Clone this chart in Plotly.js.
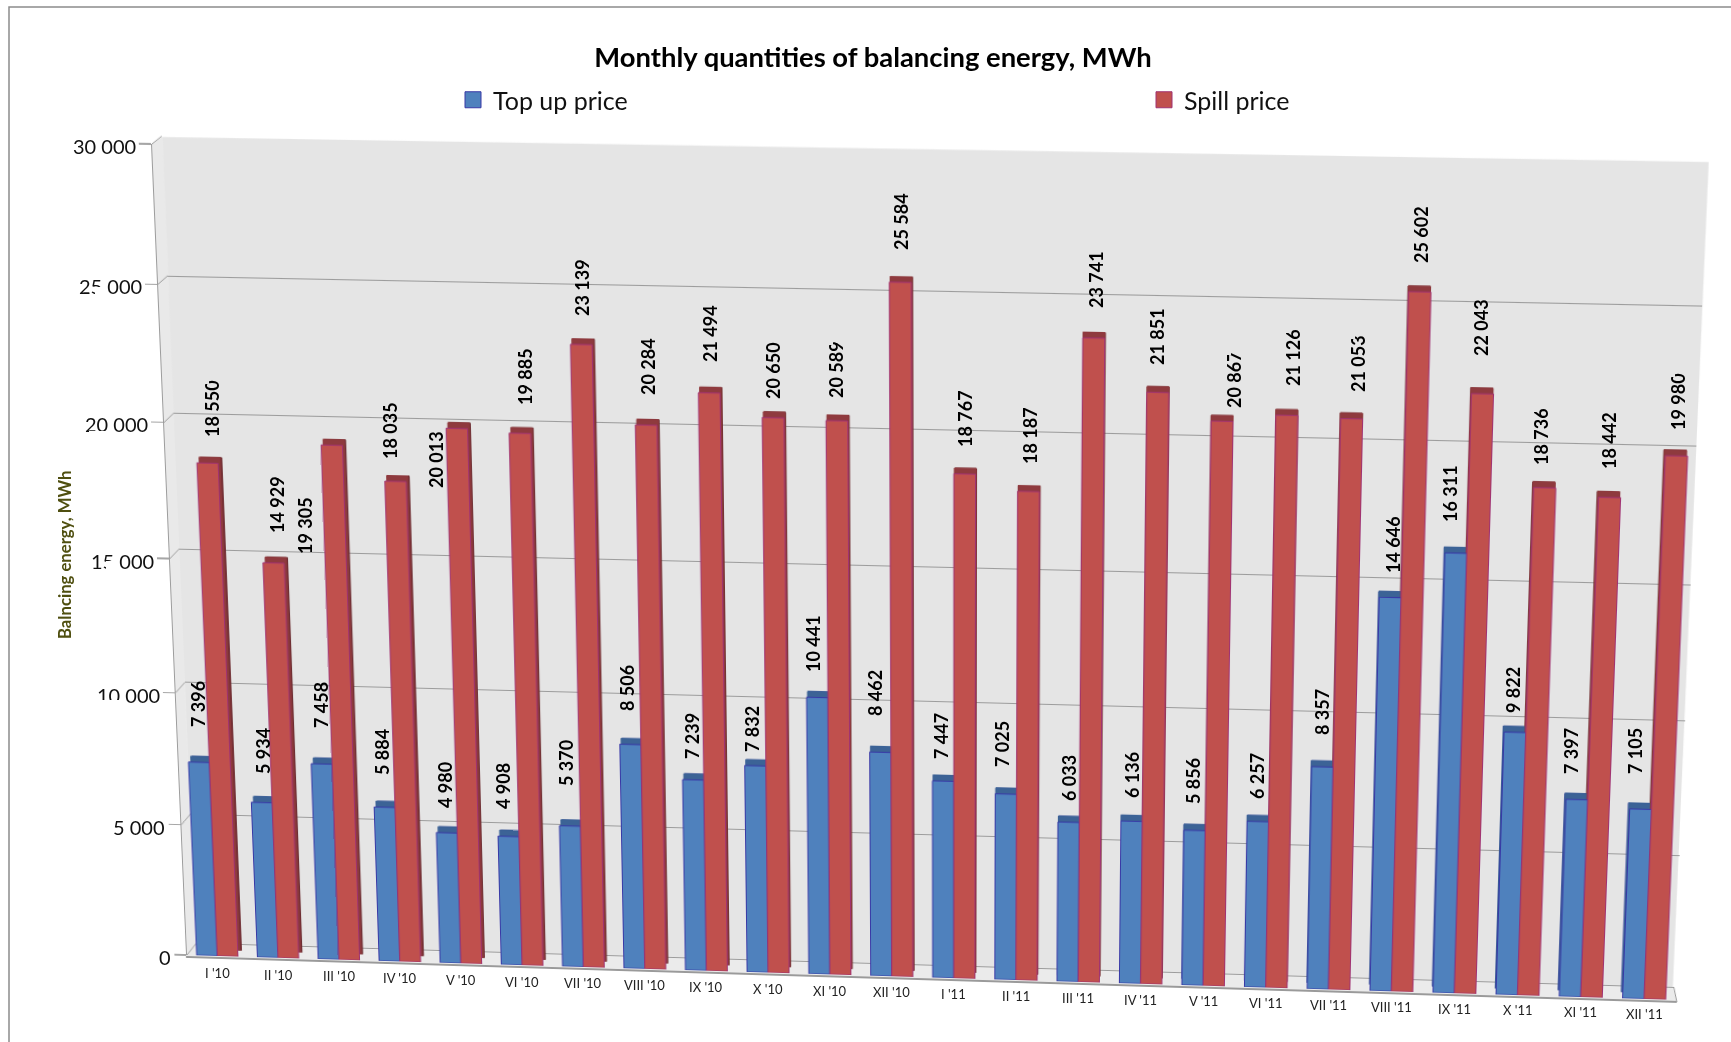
<!DOCTYPE html>
<html>
<head>
<meta charset="utf-8">
<title>Monthly quantities of balancing energy</title>
<script src="https://cdn.plot.ly/plotly-3.0.1.min.js"></script>
<style>
  html, body { margin: 0; padding: 0; background: #fff; overflow: hidden; }
  #stage { position: relative; width: 1731px; height: 1042px; overflow: hidden; }
  #bars, #texts { position: absolute; left: 0; top: 0; width: 1731px; height: 1042px; }
  #bars { transform-origin: 0 0; }
  .mask { position: absolute; }
</style>
</head>
<body>
<div id="stage"><div id="bars"></div><div id="texts"></div></div>
<script>
// ---- data ----
const months = ["I '10","II '10","III '10","IV '10","V '10","VI '10","VII '10","VIII '10","IX '10","X '10","XI '10","XII '10",
                "I '11","II '11","III '11","IV '11","V '11","VI '11","VII '11","VIII '11","IX '11","X '11","XI '11","XII '11"];
const topUp = [7396,5934,7458,5884,4980,4908,5370,8506,7239,7832,10441,8462,7447,7025,6033,6136,5856,6257,8357,14646,16311,9822,7397,7105];
const spill = [18550,14929,19305,18035,20013,19885,23139,20284,21494,20650,20589,25584,18767,18187,23741,21851,20867,21126,21053,25602,22043,18736,18442,19980];
const valueTicks = [0,5000,10000,15000,20000,25000,30000];

// ---- placement of the value labels on the page ----
const topUpLabelX = [198,263,321,382,445,503,566,627,692,752,813,875,941,1002,1069,1132,1193,1257,1322,1393,1450,1513,1571,1635];
const topUpLabelY = [704,751,705,752,785,786,763,688,736,729,644,693,736,744,778,775,781,776,712,545,494,690,751,751];
const spillLabelX = [212,277,305,390,436,525,582,648,710,773,836,901,965,1030,1096,1157,1234,1293,1358,1421,1481,1541,1609,1678];
const spillLabelY = [409,505,526,431,460,377,288,367,334,371,370,222,419,436,280,337,380,358,364,235,328,437,441,402];

// Labels whose last digit is cut short, and the scuffed stretches of the value-axis text.
const cutSpillLabels = [0,3,5,10,16,17,18,21,23];
const cutTopUpLabels = [19];
const scuffs = [[95,287,10,9],[83,294,11,2],[89,431,21,3],[106,561,9,9],[98,700,21,3]];

// ---- view geometry: corners (TL, TR, BR, BL) of each plane on the page ----
const PAGE_W = 1731, PAGE_H = 1042;
const frontQuad = [[152,144],[1710,171],[1676,1000],[187,955]];
const depthQuad = [[155.5,139],[1708.5,165],[1674.5,994],[191,949]];
const wallQuad  = [[162,137],[1709,162],[1673,987],[196,944]];
const floorEdge = [[186,957],[1677,1002]];
const flatRect  = [[100,100],[1600,100],[1600,900],[100,900]];

// Planar homography taking four points onto four points.
function homography(src, dst) {
  const A = [];
  for (let i = 0; i < 4; i++) {
    const [x, y] = src[i], [X, Y] = dst[i];
    A.push([x, y, 1, 0, 0, 0, -x * X, -y * X, X]);
    A.push([0, 0, 0, x, y, 1, -x * Y, -y * Y, Y]);
  }
  for (let c = 0; c < 8; c++) {
    let p = c;
    for (let r = c + 1; r < 8; r++) if (Math.abs(A[r][c]) > Math.abs(A[p][c])) p = r;
    [A[c], A[p]] = [A[p], A[c]];
    for (let r = 0; r < 8; r++) {
      if (r === c) continue;
      const f = A[r][c] / A[c][c];
      for (let k = c; k < 9; k++) A[r][k] -= f * A[c][k];
    }
  }
  const h = A.map((row, i) => row[8] / row[i]);
  h.push(1);
  return h;
}
const apply = (h, [x, y]) => {
  const w = h[6] * x + h[7] * y + h[8];
  return [(h[0] * x + h[1] * y + h[2]) / w, (h[3] * x + h[4] * y + h[5]) / w];
};

const toPage = homography(flatRect, frontQuad);
const toFlat = homography(frontQuad, flatRect);

// The chart is laid out flat, then the whole plot is tilted into perspective.
document.getElementById('bars').style.transform =
  `matrix3d(${toPage[0]},${toPage[3]},0,${toPage[6]},${toPage[1]},${toPage[4]},0,${toPage[7]},0,0,1,0,${toPage[2]},${toPage[5]},0,${toPage[8]})`;

const paperX = x => x / PAGE_W, paperY = y => 1 - y / PAGE_H;
const flatPaper = p => { const [x, y] = apply(toFlat, p); return [paperX(x), paperY(y)]; };

// Axis domains of a plane, read from its corners in the flat layout.
function domains(quad) {
  const c = quad.map(flatPaper);
  return { x: [(c[0][0] + c[3][0]) / 2, (c[1][0] + c[2][0]) / 2],
           y: [(c[2][1] + c[3][1]) / 2, (c[0][1] + c[1][1]) / 2] };
}
// Plane of the bar top faces: full lift, most of the sideways shift.
const capQuad = frontQuad.map((p, i) => [p[0] + 0.6 * (depthQuad[i][0] - p[0]), depthQuad[i][1]]);

const dWall = domains(wallQuad), dFar = domains(depthQuad), dCap = domains(capQuad), dFront = domains(frontQuad);
const RANGE = [0, 30000];

function polygon(points, fill) {
  const pts = points.map(flatPaper);
  return { type: 'path', xref: 'paper', yref: 'paper', layer: 'below',
           path: 'M' + pts.map(p => p.join(',')).join('L') + 'Z',
           fillcolor: fill, line: { color: fill, width: 0 } };
}

// Back wall, side wall, floor and the short ties joining ticks to the gridlines.
const shapes = [
  polygon(wallQuad, '#e5e5e5'),
  polygon([frontQuad[0], wallQuad[0], wallQuad[3], floorEdge[0]], '#e9e9e9'),
  polygon([floorEdge[0], floorEdge[1], wallQuad[2], wallQuad[3]], '#ebebeb')
];
shapes.push({ type: 'line', xref: 'paper', yref: 'paper',
  x0: flatPaper(floorEdge[0])[0], y0: flatPaper(floorEdge[0])[1],
  x1: flatPaper(floorEdge[1])[0], y1: flatPaper(floorEdge[1])[1],
  line: { color: '#9a9a9a', width: 2 } });
shapes.push({ type: 'line', xref: 'paper', yref: 'paper',
  x0: flatPaper(floorEdge[1])[0], y0: flatPaper(floorEdge[1])[1],
  x1: dWall.x[1], y1: dWall.y[0], line: { color: '#9a9a9a', width: 1 } });
valueTicks.forEach(v => {
  const t = v / RANGE[1];
  shapes.push({ type: 'line', xref: 'paper', yref: 'paper', layer: 'below',
    x0: dFront.x[0], y0: dFront.y[0] + t * (dFront.y[1] - dFront.y[0]),
    x1: dWall.x[0],  y1: dWall.y[0]  + t * (dWall.y[1]  - dWall.y[0]),
    line: { color: '#a0a0a0', width: 1 } });
});

const blue = '#4f81bd', red = '#c0504d';
function barPair(axisId, colorA, colorB, lineA, lineB) {
  const common = { type: 'bar', x: months, showlegend: false, hoverinfo: 'skip',
                   xaxis: 'x' + axisId, yaxis: 'y' + axisId };
  return [
    Object.assign({ name: 'Top up price', y: topUp, marker: { color: colorA, line: { color: lineA, width: 1 } } }, common),
    Object.assign({ name: 'Spill price',  y: spill, marker: { color: colorB, line: { color: lineB, width: 1 } } }, common)
  ];
}
const hiddenX = d => ({ domain: d, type: 'category', visible: false, fixedrange: true, range: [-0.5, 23.5] });
const hiddenY = (d, anchor) => ({ domain: d, range: RANGE, visible: false, anchor: anchor });

const barTraces = [
  ...barPair('2', '#34508c', '#6b2a2e', '#34429a', '#6b2a2e'),
  ...barPair('3', '#3c6396', '#8f3a3e', '#3c6396', '#8f3a3e'),
  ...barPair('4', blue, red, '#3838a6', '#a03272')
];
// The wall subplot carries only the gridlines; an empty series keeps its axes alive.
barTraces.unshift({ type: 'scatter', x: [months[0]], y: [null], mode: 'markers', showlegend: false, hoverinfo: 'skip' });

Plotly.newPlot('bars', barTraces, {
  width: PAGE_W, height: PAGE_H, autosize: false,
  margin: { l: 0, r: 0, t: 0, b: 0 },
  paper_bgcolor: 'rgba(0,0,0,0)', plot_bgcolor: 'rgba(0,0,0,0)',
  barmode: 'group', bargap: 0.32, bargroupgap: 0, showlegend: false,
  shapes: shapes,
  xaxis:  hiddenX(dWall.x),
  yaxis:  { domain: dWall.y, range: RANGE, tickvals: valueTicks, showgrid: true, gridcolor: '#9c9c9c', gridwidth: 1,
            zeroline: true, zerolinecolor: '#9c9c9c', zerolinewidth: 1, showticklabels: false, ticks: '', showline: false, anchor: 'x' },
  xaxis2: hiddenX(dFar.x),   yaxis2: hiddenY(dFar.y, 'x2'),
  xaxis3: hiddenX(dCap.x),   yaxis3: hiddenY(dCap.y, 'x3'),
  xaxis4: hiddenX(dFront.x),
  yaxis4: { domain: dFront.y, range: RANGE, anchor: 'x4', tickvals: valueTicks, showgrid: false, zeroline: false,
            showticklabels: false, ticks: 'outside', ticklen: 12, tickcolor: '#a6a6a6', tickwidth: 1.5,
            showline: true, linecolor: '#9c9c9c', linewidth: 1.2 }
}, { staticPlot: true, displayModeBar: false });

// ---- upright text layer: title, legend, tick labels and value labels ----
const FONT = 'Lato, "Open Sans", sans-serif';
const formatValue = v => String(v).replace(/\B(?=(\d{3})+$)/g, ' ');
const flatX = c => 100 + 1500 * c / months.length;
const flatY = v => 900 - 800 * v / RANGE[1];
const project = (c, v) => apply(toPage, [flatX(c), flatY(v)]);

const notes = [];
function note(text, x, y, opts) {
  notes.push(Object.assign({ text: text, xref: 'paper', yref: 'paper', x: paperX(x), y: paperY(y),
    showarrow: false, xanchor: 'center', yanchor: 'middle', font: { family: FONT, size: 12, color: '#111' } }, opts));
}
valueTicks.forEach(v => {
  const [x, y] = project(0, v);
  note(formatValue(v), x - 14, y + 2, { xanchor: 'right', font: { family: FONT, size: 20, color: '#111' } });
});
months.forEach((m, i) => {
  const [x, y] = project(i + 0.5, 0);
  note(m, x, y + 17 - 2 * i / 23, { font: { family: FONT, size: 13, color: '#222' } });
});
const valueFont = { family: FONT, size: 18, color: '#000', weight: 700 };
topUp.forEach((v, i) => note(formatValue(v), topUpLabelX[i], topUpLabelY[i], { textangle: -90, font: valueFont }));
spill.forEach((v, i) => note(formatValue(v), spillLabelX[i], spillLabelY[i], { textangle: -90, font: valueFont }));
note('Balncing energy, MWh', 65, 555, { textangle: -90, font: { family: FONT, size: 16.7, color: '#4f4f10', weight: 700 } });

const legendKey = (name, color, line, legendId) => ({ type: 'scatter', mode: 'markers', name: name, legend: legendId, x: [null], y: [null],
  marker: { symbol: 'square', size: 17, color: color, line: { color: line, width: 1 } }, hoverinfo: 'skip' });
const legendBox = x => ({ x: paperX(x), y: paperY(100), xanchor: 'left', yanchor: 'middle', bgcolor: 'rgba(0,0,0,0)',
                          font: { family: FONT, size: 25, color: '#111' } });

Plotly.newPlot('texts', [legendKey('Top up price', blue, '#3838a6', 'legend'), legendKey('Spill price', red, '#a03272', 'legend2')], {
  width: PAGE_W, height: PAGE_H, autosize: false,
  margin: { l: 0, r: 0, t: 0, b: 0 },
  paper_bgcolor: 'rgba(0,0,0,0)', plot_bgcolor: 'rgba(0,0,0,0)',
  title: { text: 'Monthly quantities of balancing energy, MWh', x: 873 / PAGE_W, xanchor: 'center', xref: 'paper',
           y: paperY(57), yanchor: 'middle', yref: 'paper', font: { family: FONT, size: 27.4, color: '#000', weight: 700 } },
  xaxis: { visible: false, range: [0, 1], fixedrange: true },
  yaxis: { visible: false, range: [0, 1], fixedrange: true },
  showlegend: true,
  legend: legendBox(453),
  legend2: legendBox(1144),
  annotations: notes,
  shapes: [
    { type: 'path', xref: 'paper', yref: 'paper', layer: 'below',
      path: `M${paperX(9)},0L${paperX(9)},${paperY(7)}L1,${paperY(7)}`, line: { color: '#8c8c8c', width: 1.5 } }
  ]
}, { staticPlot: true, displayModeBar: false });

// Small patches over the worn parts of the lettering.
function addMask(x, y, w, h, color) {
  const m = document.createElement('div');
  m.className = 'mask';
  m.style.cssText = `left:${x}px;top:${y}px;width:${w}px;height:${h}px;background:${color}`;
  document.getElementById('stage').appendChild(m);
}
scuffs.forEach(s => addMask(s[0], s[1], s[2], s[3], '#fff'));
const LABEL_HALF = 28;
cutSpillLabels.forEach(i => addMask(spillLabelX[i] - 9, spillLabelY[i] - LABEL_HALF - 2, 6, 5, '#e5e5e5'));
cutTopUpLabels.forEach(i => addMask(topUpLabelX[i] - 9, topUpLabelY[i] - LABEL_HALF - 2, 6, 5, '#e5e5e5'));
</script>
</body>
</html>
